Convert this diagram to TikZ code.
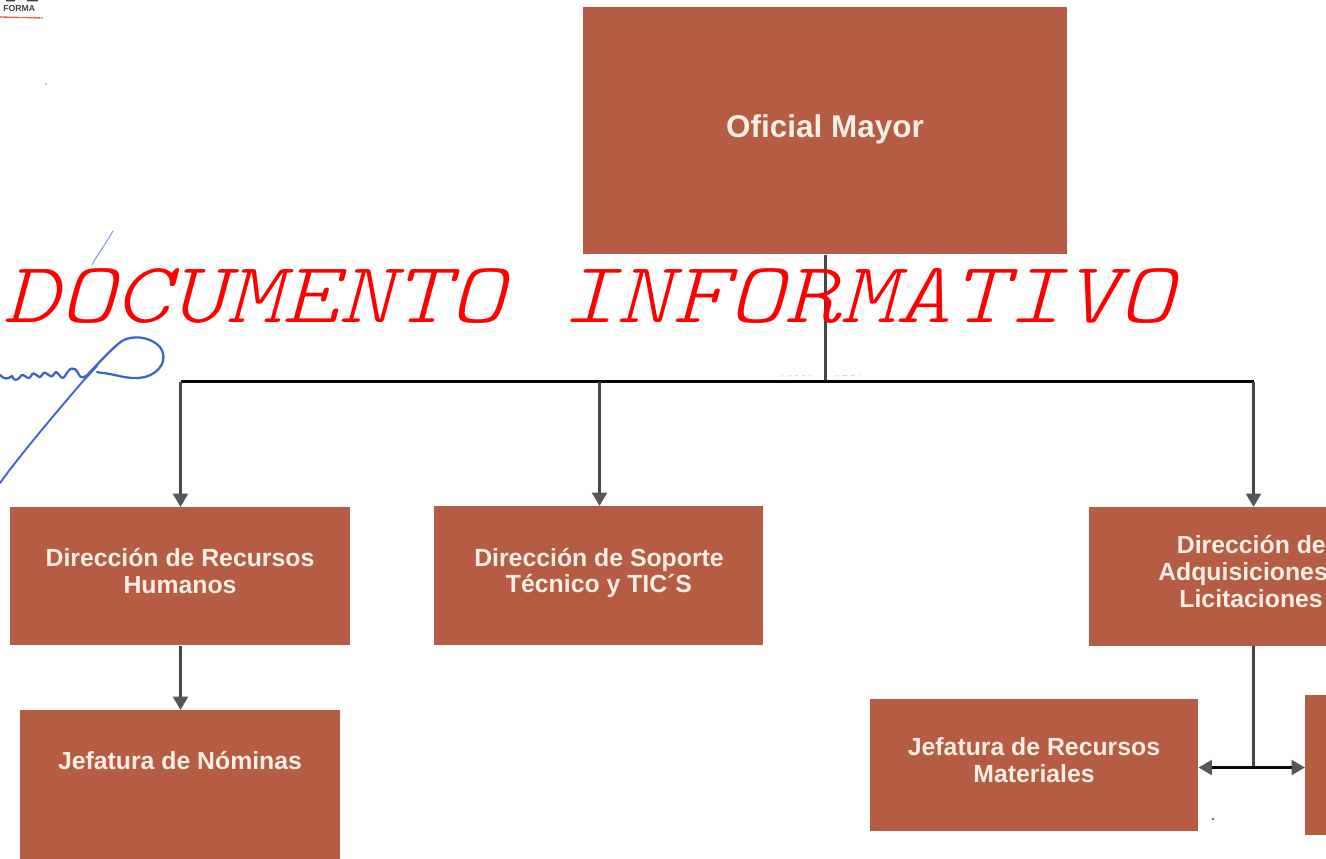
\documentclass[tikz,border=0pt]{standalone}
\usepackage{fontspec}
\setmainfont{Liberation Sans}
\newfontfamily\stampfont[FakeSlant=0.22]{Latin Modern Mono Light}
\usetikzlibrary{arrows.meta}
\definecolor{boxred}{HTML}{B55C42}
\definecolor{boxtext}{HTML}{F8EEE6}
\definecolor{linegray}{HTML}{45474A}
\definecolor{tipgray}{HTML}{55575A}
\definecolor{inkblue}{HTML}{3F63CC}
\definecolor{stampred}{HTML}{FF0000}
\tikzset{
  orgbox/.style={fill=boxred,draw=none,inner sep=0pt,anchor=north west},
  bigtext/.style={text=boxtext,font=\bfseries\fontsize{23.6}{28}\selectfont,align=center,inner sep=0pt},
  boxlabel/.style={text=boxtext,font=\bfseries\fontsize{18.6}{20.2}\selectfont,align=center,inner sep=0pt},
  conn/.style={draw=linegray,line width=2.25pt},
  bus/.style={draw=black!90!linegray,line width=2.25pt},
  tip/.style={-{Triangle[length=10pt,width=11pt,color=tipgray]}},
  dbltip/.style={{Triangle[length=10pt,width=11pt,color=tipgray]}-{Triangle[length=10pt,width=11pt,color=tipgray]}},
  ink/.style={draw=inkblue,line width=1.4pt,line cap=round,line join=round},
}
\begin{document}
\begin{tikzpicture}[x=0.75pt,y=-0.75pt]
\useasboundingbox (0,0) rectangle (1326,859);
\clip (0,0) rectangle (1326,859);
\fill[white] (0,0) rectangle (1326,859);

% boxes
\node[orgbox,minimum width=363pt,minimum height=185.25pt] (om) at (583,7) {};
\node[orgbox,minimum width=255pt,minimum height=103.5pt] (drh) at (10,507) {};
\node[orgbox,minimum width=246.75pt,minimum height=104.25pt] (dst) at (434,506) {};
\node[orgbox,minimum width=246pt,minimum height=104.25pt] (dal) at (1089,507) {};
\node[orgbox,minimum width=240pt,minimum height=120pt] (jn) at (20,710) {};
\node[orgbox,minimum width=246pt,minimum height=99pt] (jrm) at (870,699) {};
\node[orgbox,minimum width=60pt,minimum height=105pt] (jx) at (1305,695) {};

% box texts
\node[bigtext] (tom) at (825,129) {Oficial Mayor};
\node[boxlabel] (tdrh) at (180,571) {Dirección de Recursos\\Humanos};
\node[boxlabel] (tdst) at (599,573) {Dirección de Soporte\\Técnico y TIC´S};
\node[boxlabel,anchor=north east] (tdal1) at (1326,535) {Dirección de};
\node[boxlabel,anchor=north west] (tdal2) at (1158,562) {Adquisiciones};
\node[boxlabel,anchor=north east] (tdal3) at (1323,589) {Licitaciones};
\node[boxlabel] (tjn) at (180,761) {Jefatura de Nóminas};
\node[boxlabel] (tjrm) at (1034,760) {Jefatura de Recursos\\Materiales};

% connectors
\coordinate (busm) at (825.5,381.5);
\coordinate (busl) at (180.5,381.5);
\coordinate (busc) at (599.5,381.5);
\coordinate (busr) at (1253.5,381.5);
\coordinate (dalx) at (1253.5,646);
\coordinate (junc) at (1253.5,767.5);
\coordinate (drhx) at (180.5,646);
\draw[conn] (om.south -| busm) -- (busm);
\draw[bus] (busl) -- (busr);
\draw[conn,tip] (busl) -- (busl |- drh.north);
\draw[conn,tip] (busc) -- (busc |- dst.north);
\draw[conn,tip] (busr) -- (busr |- dal.north);
\draw[conn,tip] (drhx) -- (drhx |- jn.north);
\draw[conn] (dalx) -- (junc);
\draw[bus,dbltip] (jrm.east |- junc) -- (jx.west |- junc);

% signature
\draw[ink,line width=1.7pt] (0,375) .. controls (5,380) and (8,379) .. (12,376)
  .. controls (14,381) and (17,381) .. (20,377) .. controls (24,370) and (27,383) .. (31,376)
  .. controls (35,368) and (38,382) .. (42,375) .. controls (46,367) and (50,382) .. (54,374)
  .. controls (58,367) and (60,383) .. (65,376) .. controls (70,367) and (74,366) .. (78,373)
  .. controls (81,380) and (85,378) .. (90,372) .. controls (98,364) and (112,348) .. (122,341)
  .. controls (132,335) and (150,336) .. (160,347) .. controls (168,358) and (162,372) .. (145,377)
  .. controls (132,380) and (120,376) .. (110,374) .. controls (105,373) and (100,373) .. (97,372);
\draw[ink] (97,366) .. controls (88,376) and (82,382) .. (78,387) .. controls (60,408) and (20,455) .. (0,483);
\draw[ink,line width=0.7pt,draw=inkblue!70] (113,231) .. controls (105,245) and (97,255) .. (92,265);

% red stamp
\node[inner sep=0pt,anchor=base west,text=stampred,xscale=1.226,font={\stampfont\fontsize{65}{70}\selectfont}] (stamp) at (3,322) {DOCUMENTO INFORMATIVO};

% logo fragment
\node[inner sep=0pt,anchor=base west,text=black!75,font=\bfseries\fontsize{6.5}{7}\selectfont] (logo) at (3,12) {FORMA};
\draw[draw=brown!70!red,line width=1pt,dash pattern=on 1.5pt off 0.4pt] (0,17) -- (43,18);
\fill[black!75] (6,0) rectangle (15,1.5) (27,0) rectangle (38,1.5);

% specks
\fill[black!60] (1213,819) circle (1.3);
\fill[black!50] (46,84) circle (0.8);
\draw[black!25,dash pattern=on 2pt off 3pt] (782,376) -- (815,375);
\draw[black!25,dash pattern=on 3pt off 3pt] (835,376) -- (860,375);
\end{tikzpicture}
\end{document}
